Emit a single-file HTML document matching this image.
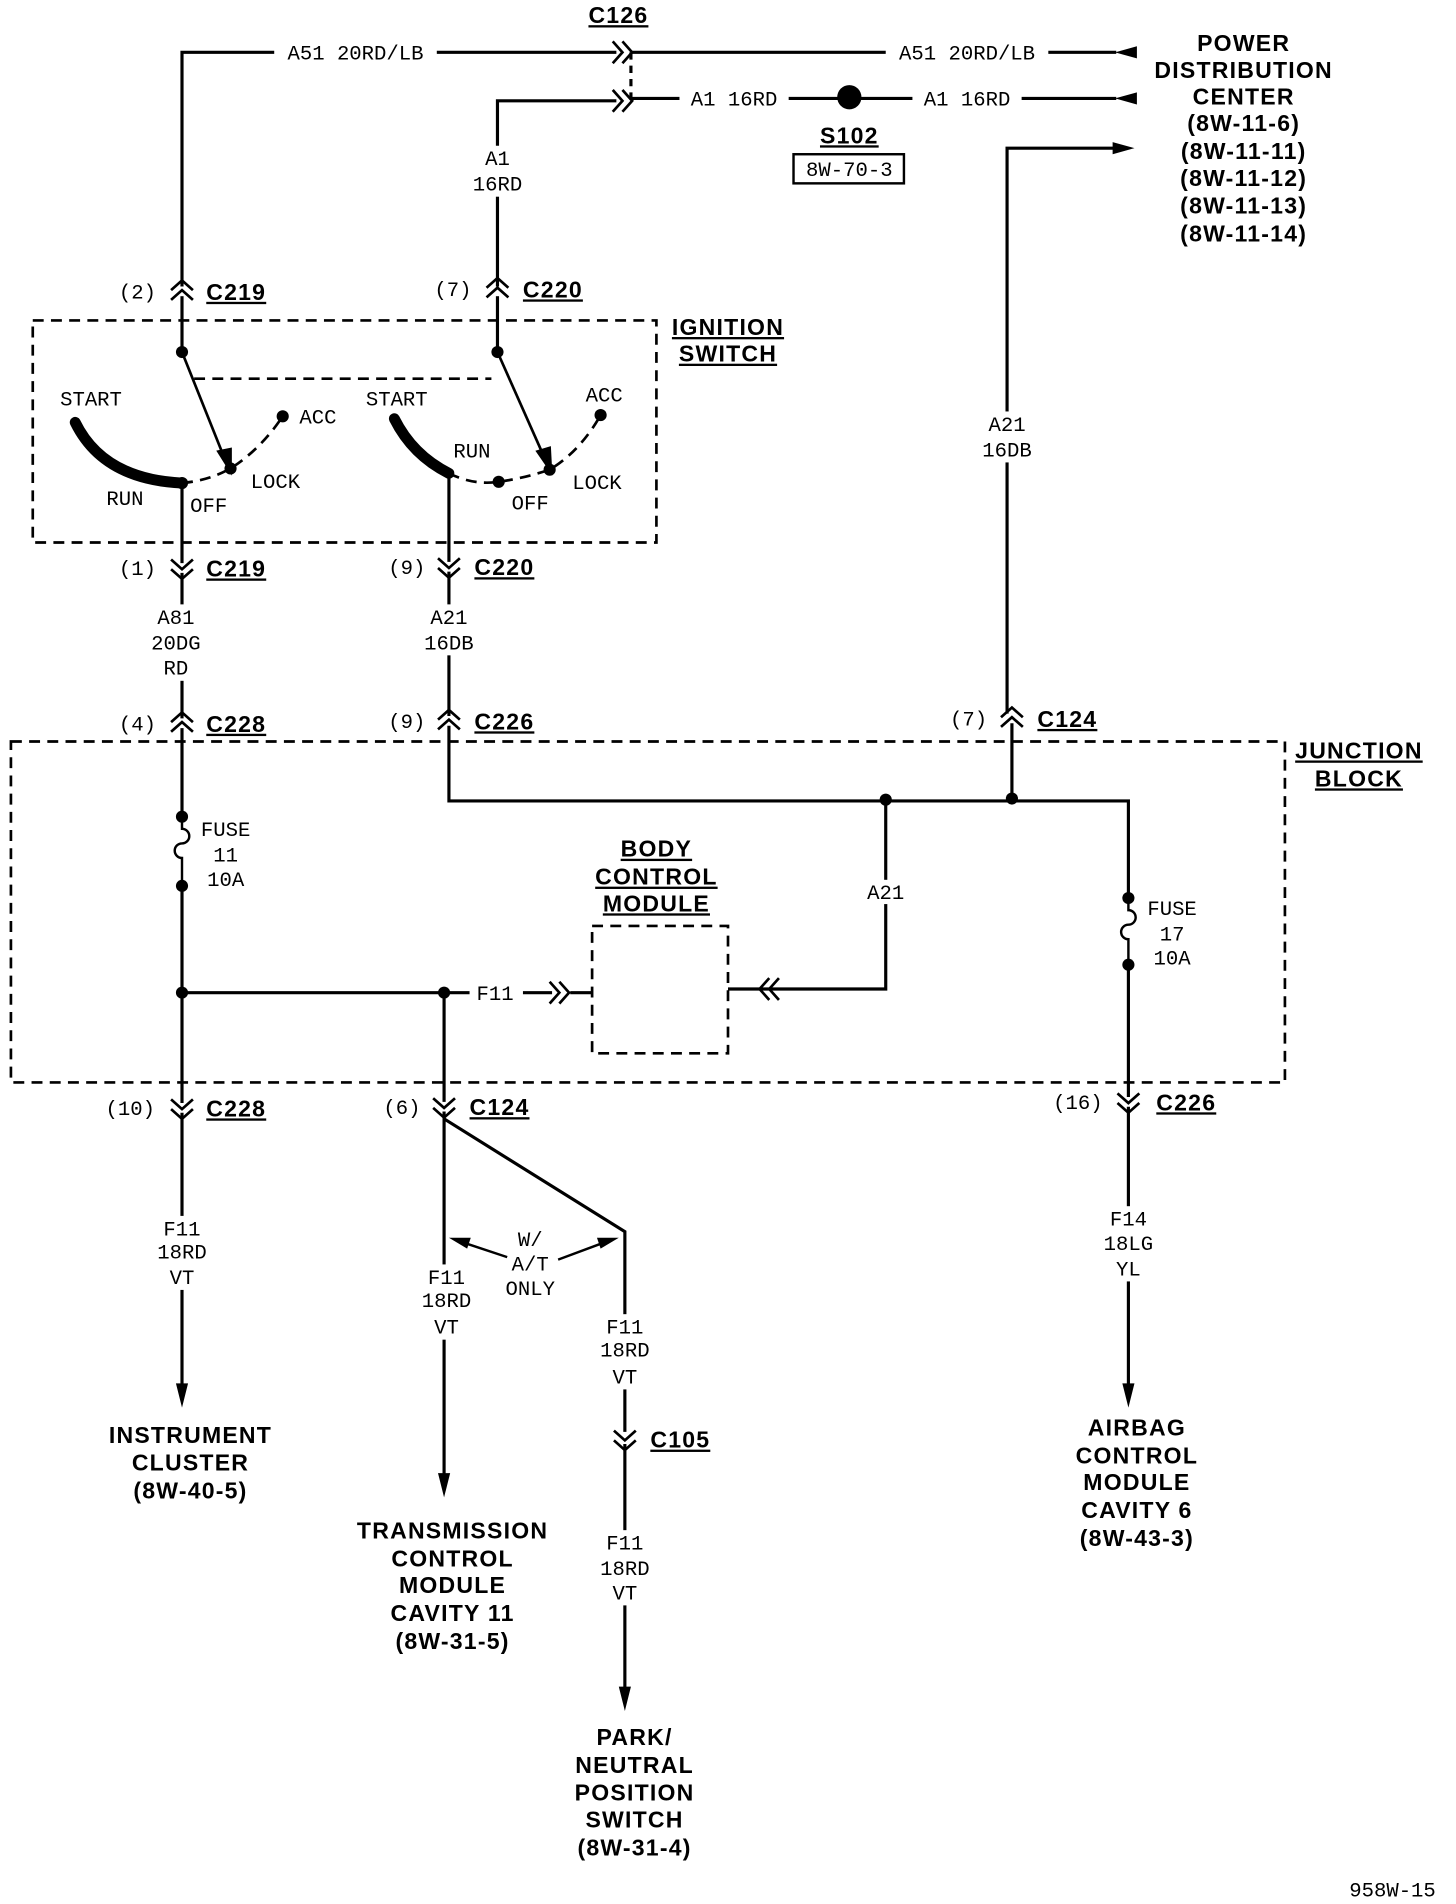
<!DOCTYPE html>
<html><head><meta charset="utf-8"><style>
html,body{margin:0;padding:0;background:#fff;}
svg{display:block}
text{font-family:"Liberation Mono",monospace;font-size:17px;fill:#000;}
.b{font-family:"Liberation Sans",sans-serif;font-weight:bold;font-size:19px;letter-spacing:1px;}
.u{text-decoration:underline;}
</style></head><body>
<svg width="1456" height="1904" viewBox="0 0 1200 1569" xmlns="http://www.w3.org/2000/svg">
<defs>
<g id="cu"><path d="M-9,-1 L0,-9 L9,-1 M-9,7 L0,-1 L9,7" fill="none" stroke="#000" stroke-width="2.2"/></g>
<g id="cd"><path d="M-9,-7 L0,1 L9,-7 M-9,1 L0,9 L9,1" fill="none" stroke="#000" stroke-width="2.2"/></g>
<g id="cr"><path d="M-7,-9 L1,0 L-7,9 M1,-9 L9,0 L1,9" fill="none" stroke="#000" stroke-width="2.2"/></g>
<g id="cl"><path d="M7,-9 L-1,0 L7,9 M-1,-9 L-9,0 L-1,9" fill="none" stroke="#000" stroke-width="2.2"/></g>
</defs>
<g stroke="#000" stroke-width="2.6" fill="none">
<path d="M150,236 V43 H508"/>
<path d="M520,43 H920"/>
<path d="M410,236 V83 H508"/>
<path d="M520,81 H920"/>
<path d="M830,588 V122 H920"/>
<path d="M520,43 V83" stroke-dasharray="6,5"/>
<path d="M150,244 V290"/><path d="M410,244 V290"/>
<path d="M150,398 V464"/><path d="M370,390 V463"/>
<path d="M150,472 V592"/><path d="M370,471 V590"/>
<path d="M150,600 V673"/><path d="M150,730 V909"/>
<path d="M370,598 V660 H930 V740"/>
<path d="M834,596 V658"/>
<path d="M730,658 V815 H600"/>
<path d="M150,818 H455"/>
<path d="M470,818 H488"/>
<path d="M366,818 V908"/>
<path d="M930,795 V904"/>
<path d="M150,917 V1145"/>
<path d="M366,916 V1220"/>
<path d="M366,922 L515,1015 V1180"/>
<path d="M515,1190 V1395"/>
<path d="M930,912 V1145"/>
</g>
<!-- white label backgrounds -->
<g fill="#fff">
<rect x="226" y="34" width="134" height="18"/>
<rect x="730" y="34" width="134" height="18"/>
<rect x="560" y="72" width="90" height="18"/>
<rect x="752" y="72" width="90" height="18"/>
<rect x="388" y="120" width="44" height="42"/>
<rect x="808" y="339" width="44" height="42"/>
<rect x="120" y="498" width="50" height="63"/>
<rect x="345" y="498" width="50" height="42"/>
<rect x="710" y="725" width="40" height="20"/>
<rect x="387" y="809" width="44" height="18"/>
<rect x="125" y="1002" width="50" height="61"/>
<rect x="343" y="1042" width="50" height="62"/>
<rect x="490" y="1083" width="50" height="62"/>
<rect x="490" y="1261" width="50" height="62"/>
<rect x="905" y="994" width="50" height="62"/>
</g>
<g stroke="#000" stroke-width="2.2" fill="none" stroke-dasharray="9,6">
<rect x="27" y="264" width="514" height="183"/>
<rect x="9" y="611" width="1050" height="281"/>
<rect x="488" y="763" width="112" height="105"/>
<path d="M160,312 H405"/>
<path d="M150,398 Q172,396 190,386 Q215,370 233,343"/>
<path d="M370,390 Q390,400 411,397 Q432,394 453,387 Q478,372 495,342"/>
</g>
<g stroke="#000" stroke-width="9" fill="none" stroke-linecap="round">
<path d="M62,348 Q85,395 150,398"/>
<path d="M325,345 Q340,375 370,390"/>
</g>
<g stroke="#000" stroke-width="2.2" fill="#000">
<path d="M150,290 L186,380" fill="none"/><path d="M190,388 L180,372 L190,370 Z"/>
<path d="M410,290 L450,380" fill="none"/><path d="M454,388 L443,372 L453,369 Z"/>
</g>
<g fill="#000">
<circle cx="150" cy="290" r="5"/><circle cx="410" cy="290" r="5"/>
<circle cx="190" cy="386" r="5"/><circle cx="233" cy="343" r="5"/><circle cx="150" cy="398" r="5"/>
<circle cx="453" cy="387" r="5"/><circle cx="495" cy="342" r="5"/><circle cx="411" cy="397" r="5"/><circle cx="370" cy="390" r="4"/>
<circle cx="700" cy="80" r="10"/>
<circle cx="730" cy="659" r="5"/><circle cx="834" cy="658" r="5"/>
<circle cx="150" cy="673" r="5"/><circle cx="150" cy="730" r="5"/>
<circle cx="930" cy="740" r="5"/><circle cx="930" cy="795" r="5"/>
<circle cx="150" cy="818" r="5"/><circle cx="366" cy="818" r="5"/>
<path d="M919,43 L937,38 L937,48 Z"/>
<path d="M919,81 L937,76 L937,86 Z"/>
<path d="M935,122 L917,117 L917,127 Z"/>
<path d="M150,1160 L145,1140 L155,1140 Z"/>
<path d="M366,1234 L361,1214 L371,1214 Z"/>
<path d="M515,1410 L510,1390 L520,1390 Z"/>
<path d="M930,1160 L925,1140 L935,1140 Z"/>
<path d="M370,1020 L388,1020 L385,1029 Z"/>
<path d="M510,1020 L492,1020 L495,1029 Z"/>
</g>
<g stroke="#000" stroke-width="2" fill="none">
<path d="M385,1025 L418,1036"/><path d="M495,1025 L460,1038"/>
<path d="M150,673 V683 A6,6 0 0 1 150,695 A6,6 0 0 0 150,707 V730"/>
<path d="M930,740 V750 A6,6 0 0 1 930,762 A6,6 0 0 0 930,774 V795"/>
<rect x="654" y="127" width="91" height="24"/>
</g>
<use href="#cr" x="512" y="43"/><use href="#cr" x="512" y="83"/>
<use href="#cu" x="150" y="240"/><use href="#cu" x="410" y="238"/>
<use href="#cd" x="150" y="468"/><use href="#cd" x="370" y="467"/>
<use href="#cu" x="150" y="596"/><use href="#cu" x="370" y="594"/><use href="#cu" x="834" y="592"/>
<use href="#cr" x="460" y="818"/><use href="#cl" x="635" y="815"/>
<use href="#cd" x="150" y="913"/><use href="#cd" x="366" y="912"/><use href="#cd" x="930" y="908"/>
<use href="#cd" x="515" y="1186"/>
<g text-anchor="middle">
<text x="293" y="49">A51 20RD/LB</text>
<text x="797" y="49">A51 20RD/LB</text>
<text x="605" y="87">A1 16RD</text>
<text x="797" y="87">A1 16RD</text>
<text x="700" y="145">8W-70-3</text>
<text x="410" y="136">A1</text><text x="410" y="157">16RD</text>
<text x="830" y="355">A21</text><text x="830" y="376">16DB</text>
<text x="145" y="514">A81</text><text x="145" y="535">20DG</text><text x="145" y="556">RD</text>
<text x="370" y="514">A21</text><text x="370" y="535">16DB</text>
<text x="730" y="741">A21</text>
<text x="408" y="824">F11</text>
<text x="186" y="689">FUSE</text><text x="186" y="710">11</text><text x="186" y="730">10A</text>
<text x="966" y="754">FUSE</text><text x="966" y="775">17</text><text x="966" y="795">10A</text>
<text x="150" y="1018">F11</text><text x="150" y="1037">18RD</text><text x="150" y="1058">VT</text>
<text x="368" y="1058">F11</text><text x="368" y="1077">18RD</text><text x="368" y="1099">VT</text>
<text x="515" y="1099">F11</text><text x="515" y="1118">18RD</text><text x="515" y="1140">VT</text>
<text x="515" y="1277">F11</text><text x="515" y="1298">18RD</text><text x="515" y="1318">VT</text>
<text x="930" y="1010">F14</text><text x="930" y="1030">18LG</text><text x="930" y="1051">YL</text>
<text x="437" y="1027">W/</text><text x="437" y="1047">A/T</text><text x="437" y="1067">ONLY</text>
<text x="75" y="334">START</text><text x="103" y="416">RUN</text><text x="172" y="422">OFF</text>
<text x="227" y="402">LOCK</text><text x="262" y="349">ACC</text>
<text x="327" y="334">START</text><text x="389" y="377">RUN</text><text x="437" y="420">OFF</text>
<text x="492" y="403">LOCK</text><text x="498" y="331">ACC</text>
</g>
<g>
<text x="98" y="246">(2)</text><text x="358" y="244">(7)</text>
<text x="98" y="474">(1)</text><text x="320" y="473">(9)</text>
<text x="98" y="602">(4)</text><text x="320" y="600">(9)</text><text x="783" y="598">(7)</text>
<text x="87" y="919">(10)</text><text x="316" y="918">(6)</text><text x="868" y="914">(16)</text>
<text x="1112" y="1563">958W-15</text>
</g>
<g class="b">
<text class="b u" x="170" y="247">C219</text><text class="b u" x="431" y="245">C220</text>
<text class="b u" x="170" y="475">C219</text><text class="b u" x="391" y="474">C220</text>
<text class="b u" x="170" y="603">C228</text><text class="b u" x="391" y="601">C226</text><text class="b u" x="855" y="599">C124</text>
<text class="b u" x="170" y="920">C228</text><text class="b u" x="387" y="919">C124</text><text class="b u" x="953" y="915">C226</text>
<text class="b u" x="536" y="1193">C105</text>
<text class="b u" x="485" y="19">C126</text>
</g>
<g class="b" text-anchor="middle">
<text class="b u" x="700" y="118">S102</text>
<text class="b u" x="600" y="276">IGNITION</text><text class="b u" x="600" y="298">SWITCH</text>
<text class="b u" x="1120" y="625">JUNCTION</text><text class="b u" x="1120" y="648">BLOCK</text>
<text class="b u" x="541" y="706">BODY</text><text class="b u" x="541" y="729">CONTROL</text><text class="b u" x="541" y="751">MODULE</text>
<text class="b" x="1025" y="42">POWER</text><text class="b" x="1025" y="64">DISTRIBUTION</text><text class="b" x="1025" y="86">CENTER</text>
<text class="b" x="1025" y="108">(8W-11-6)</text><text class="b" x="1025" y="131">(8W-11-11)</text><text class="b" x="1025" y="153">(8W-11-12)</text><text class="b" x="1025" y="176">(8W-11-13)</text><text class="b" x="1025" y="199">(8W-11-14)</text>
<text class="b" x="157" y="1189">INSTRUMENT</text><text class="b" x="157" y="1212">CLUSTER</text><text class="b" x="157" y="1235">(8W-40-5)</text>
<text class="b" x="373" y="1268">TRANSMISSION</text><text class="b" x="373" y="1291">CONTROL</text><text class="b" x="373" y="1313">MODULE</text><text class="b" x="373" y="1336">CAVITY 11</text><text class="b" x="373" y="1359">(8W-31-5)</text>
<text class="b" x="523" y="1438">PARK/</text><text class="b" x="523" y="1461">NEUTRAL</text><text class="b" x="523" y="1484">POSITION</text><text class="b" x="523" y="1506">SWITCH</text><text class="b" x="523" y="1529">(8W-31-4)</text>
<text class="b" x="937" y="1183">AIRBAG</text><text class="b" x="937" y="1206">CONTROL</text><text class="b" x="937" y="1228">MODULE</text><text class="b" x="937" y="1251">CAVITY 6</text><text class="b" x="937" y="1274">(8W-43-3)</text>
</g>
</svg>
</body></html>
